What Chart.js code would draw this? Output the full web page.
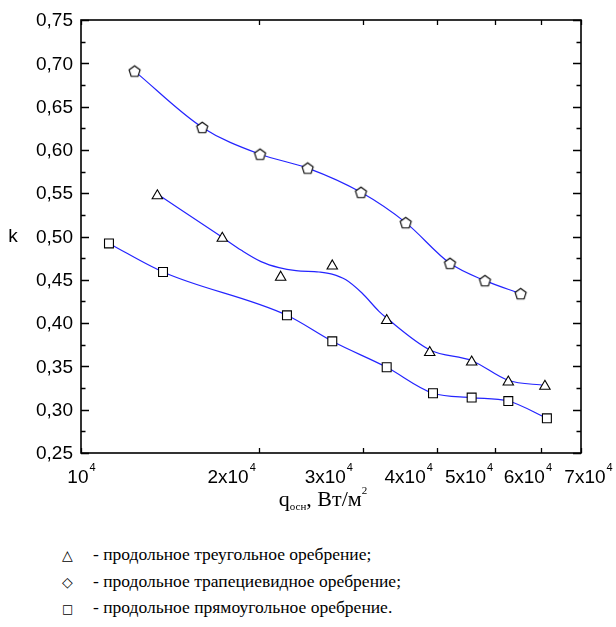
<!DOCTYPE html>
<html>
<head>
<meta charset="utf-8">
<script src="https://cdn.jsdelivr.net/npm/chart.js@4/dist/chart.umd.min.js"></script>
<style>
  body { margin: 0; background: #fff; }
  #wrap { position: relative; width: 616px; height: 627px; }
  #chart { position: absolute; left: 0; top: 0; }
  #legend {
    position: absolute; left: 62px; top: 542px;
    font-family: "Liberation Serif", "Times New Roman", serif;
    font-size: 17.5px; line-height: 25.5px; color: #000; word-spacing: 0px;
  }
  #legend .sym { display: inline-block; width: 31px; font-family: "DejaVu Sans", sans-serif; font-size: 14px; }
  #legend .sq { font-size: 12px; }
</style>
</head>
<body>
<div id="wrap">
  <canvas id="chart" width="616" height="530"></canvas>
  <div id="legend">
    <div><span class="sym">△</span>- продольное треугольное оребрение;</div>
    <div><span class="sym">◇</span>- продольное трапециевидное оребрение;</div>
    <div><span class="sym sq">□</span>- продольное прямоугольное оребрение.</div>
  </div>
</div>
<script>
// x tick values and labels (log axis)
const xTicks = [10000, 20000, 30000, 40000, 50000, 60000, 70000];
const xTickMain = ["10", "2x10", "3x10", "4x10", "5x10", "6x10", "7x10"];
const xTickSup = "4";
const xLabelShift = [0, -28, -35, -29, -26, -14, 7];
const yTicks = [0.25, 0.30, 0.35, 0.40, 0.45, 0.50, 0.55, 0.60, 0.65, 0.70, 0.75];

// trapezoid ribs (pentagon markers)
const xPent = [12320, 16030, 20070, 24160, 29730, 35390, 42040, 48170, 55350];
const kPent = [0.691, 0.626, 0.595, 0.579, 0.551, 0.516, 0.469, 0.449, 0.434];

// triangular ribs
const xTri = [13460, 17330, 21750, 26590, 32860, 38850, 45740, 52750, 60830];
const kTri = [0.547, 0.498, 0.453, 0.466, 0.403, 0.366, 0.355, 0.332, 0.327];

// fitted curve for triangular ribs
const xTriFit = [13460, 17330, 18670, 20150, 21610, 23090, 25250, 26560, 28040, 29850, 31890, 32900, 38890, 45790, 52680, 60830];
const kTriFit = [0.549, 0.499, 0.484, 0.471, 0.464, 0.4605, 0.459, 0.4566, 0.450, 0.4347, 0.4136, 0.4055, 0.369, 0.3566, 0.334, 0.328];

// rectangular ribs
const xSq = [11150, 13760, 22290, 26590, 32860, 39350, 45740, 52750, 61300];
const kSq = [0.492, 0.459, 0.409, 0.379, 0.349, 0.319, 0.314, 0.310, 0.290];

const lineBlue = "#2424ff";

function pts(xs, ys) {
    return xs.map((x, i) => ({ x: x, y: ys[i] }));
}

// pentagon marker as a small canvas
function pentagonImage(R) {
    const size = Math.ceil(2 * R + 3);
    const c = document.createElement("canvas");
    c.width = size; c.height = size;
    const g = c.getContext("2d");
    const cx = size / 2, cy = size / 2 + R * (1 - Math.cos(Math.PI / 5)) / 2;
    g.beginPath();
    for (let i = 0; i < 5; i++) {
        const a = -Math.PI / 2 + i * 2 * Math.PI / 5;
        const px = cx + R * Math.cos(a), py = cy + R * Math.sin(a);
        if (i === 0) g.moveTo(px, py); else g.lineTo(px, py);
    }
    g.closePath();
    g.fillStyle = "#fff"; g.fill();
    g.lineWidth = 1.1; g.strokeStyle = "#000"; g.stroke();
    return c;
}

function marker(data, style, r) {
    return {
        data: data, showLine: false, pointStyle: style, pointRadius: r,
        pointBackgroundColor: "#fff", pointBorderColor: "#000", pointBorderWidth: 1.1,
        order: 0
    };
}
function curve(data) {
    return {
        data: data, showLine: true, pointRadius: 0, borderColor: lineBlue,
        borderWidth: 1.2, cubicInterpolationMode: "monotone", fill: false, order: 1
    };
}

// frame, inward ticks, tick labels and axis titles
const axesPlugin = {
    id: "axesFrame",
    afterDraw(chart) {
        const ctx = chart.ctx, ca = chart.chartArea;
        const xs = chart.scales.x, ys = chart.scales.y;
        ctx.save();
        ctx.strokeStyle = "#000";
        ctx.lineWidth = 1.3;
        // y ticks, major + minor
        for (let i = 0; i < yTicks.length; i++) {
            const y = Math.round(ys.getPixelForValue(yTicks[i])) + 0.5;
            ctx.beginPath();
            ctx.moveTo(ca.left, y); ctx.lineTo(ca.left + 8, y);
            ctx.moveTo(ca.right, y); ctx.lineTo(ca.right - 8, y);
            ctx.stroke();
            if (i < yTicks.length - 1) {
                const ym = Math.round(ys.getPixelForValue((yTicks[i] + yTicks[i + 1]) / 2)) + 0.5;
                ctx.beginPath();
                ctx.moveTo(ca.left, ym); ctx.lineTo(ca.left + 4.5, ym);
                ctx.moveTo(ca.right, ym); ctx.lineTo(ca.right - 4.5, ym);
                ctx.stroke();
            }
        }
        // x ticks
        xTicks.forEach(v => {
            const x = Math.round(xs.getPixelForValue(v)) + 0.5;
            ctx.beginPath();
            ctx.moveTo(x, ca.bottom); ctx.lineTo(x, ca.bottom - 5);
            ctx.moveTo(x, ca.top); ctx.lineTo(x, ca.top + 5);
            ctx.stroke();
        });
        // frame
        ctx.lineWidth = 1.6;
        ctx.strokeRect(ca.left, ca.top, ca.right - ca.left, ca.bottom - ca.top);

        // y labels
        ctx.fillStyle = "#000";
        ctx.font = '19px "Liberation Sans", Arial, sans-serif';
        ctx.textAlign = "right";
        ctx.textBaseline = "middle";
        yTicks.forEach(v => {
            ctx.fillText(v.toFixed(2).replace(".", ","), ca.left - 8, ys.getPixelForValue(v) + 1);
        });

        // x labels with superscript
        ctx.textAlign = "left";
        ctx.textBaseline = "alphabetic";
        xTicks.forEach((v, i) => {
            ctx.font = '19px "Liberation Sans", Arial, sans-serif';
            const wm = ctx.measureText(xTickMain[i]).width;
            ctx.font = '11px "Liberation Sans", Arial, sans-serif';
            const ws = ctx.measureText(xTickSup).width;
            const cx = xs.getPixelForValue(v) + xLabelShift[i];
            const x0 = cx - (wm + ws) / 2;
            ctx.font = '19px "Liberation Sans", Arial, sans-serif';
            ctx.fillText(xTickMain[i], x0, ca.bottom + 30);
            ctx.font = '11px "Liberation Sans", Arial, sans-serif';
            ctx.fillText(xTickSup, x0 + wm + 1, ca.bottom + 18);
        });

        // y title
        ctx.font = '19px "Liberation Sans", Arial, sans-serif';
        ctx.textAlign = "center";
        ctx.textBaseline = "middle";
        ctx.fillText("k", 13, (ca.top + ca.bottom) / 2);

        // x title: q_осн, Вт/м²
        ctx.textAlign = "left";
        ctx.textBaseline = "alphabetic";
        const big = '22px "Liberation Serif", "Times New Roman", serif';
        const small = '11px "Liberation Serif", "Times New Roman", serif';
        const parts = [["q", big, 0], ["осн", small, 4], [", Вт/м", big, 0], ["2", small, -12]];
        let total = 0;
        parts.forEach(p => { ctx.font = p[1]; total += ctx.measureText(p[0]).width; });
        let tx = 323 - total / 2;
        const base = ca.bottom + 53;
        parts.forEach(p => {
            ctx.font = p[1];
            ctx.fillText(p[0], tx, base + p[2]);
            tx += ctx.measureText(p[0]).width;
        });
        ctx.restore();
    }
};

const chart = new Chart(document.getElementById("chart").getContext("2d"), {
    type: "scatter",
    data: {
        datasets: [
            marker(pts(xTri, kTri), "triangle", 6),
            marker(pts(xPent, kPent), pentagonImage(5.8), 6),
            marker(pts(xSq, kSq), "rect", 6.3),
            curve(pts(xTriFit, kTriFit)),
            curve(pts(xPent, kPent)),
            curve(pts(xSq, kSq))
        ]
    },
    options: {
        responsive: false,
        animation: false,
        layout: { padding: { left: 81, right: 35, top: 20, bottom: 77 } },
        scales: {
            x: { type: "logarithmic", min: 10000, max: 70000, display: false },
            y: { type: "linear", min: 0.25, max: 0.75, display: false }
        },
        plugins: { legend: { display: false }, tooltip: { enabled: false } }
    },
    plugins: [axesPlugin]
});
</script>
</body>
</html>
